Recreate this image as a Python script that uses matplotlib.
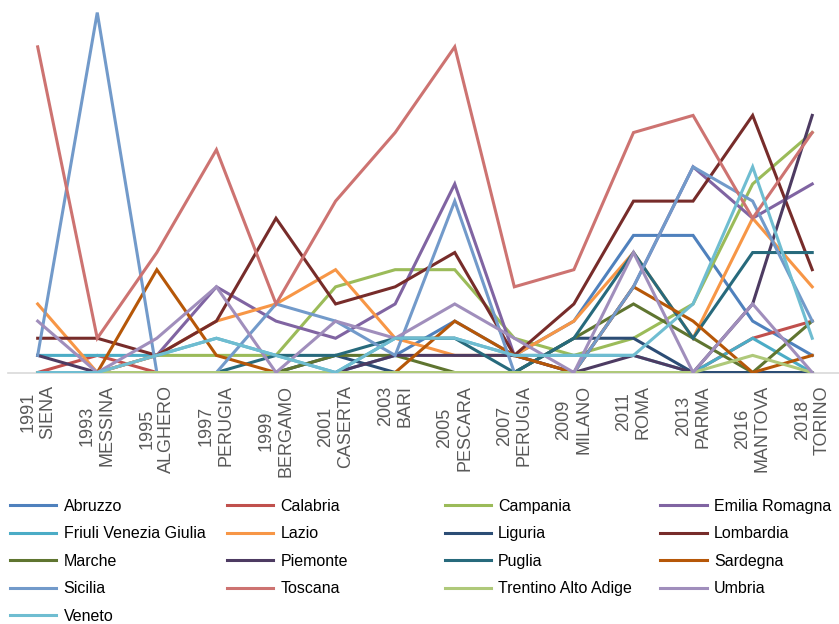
import matplotlib
matplotlib.use('Agg')
import matplotlib.pyplot as plt
import numpy as np

edizioni = ['1991\nSIENA', '1993\nMESSINA', '1995\nALGHERO', '1997\nPERUGIA',
            '1999\nBERGAMO', '2001\nCASERTA', '2003\nBARI', '2005\nPESCARA',
            '2007\nPERUGIA', '2009\nMILANO', '2011\nROMA', '2013\nPARMA',
            '2016\nMANTOVA', '2018\nTORINO']

abruzzo   = [0, 0, 0, 0, 0, 0, 1, 3, 1, 3, 8, 8, 3, 1]
calabria  = [0, 1, 0, 0, 0, 0, 0, 0, 0, 0, 0, 0, 2, 3]
campania  = [0, 0, 1, 1, 1, 5, 6, 6, 2, 1, 2, 4, 11, 14]
emilia    = [0, 0, 1, 5, 3, 2, 4, 11, 1, 0, 5, 12, 9, 11]
friuli    = [1, 1, 1, 2, 1, 0, 2, 2, 1, 1, 1, 0, 2, 0]
lazio     = [4, 0, 1, 3, 4, 6, 2, 1, 1, 3, 7, 2, 9, 5]
liguria   = [0, 0, 0, 0, 0, 1, 0, 0, 0, 2, 2, 0, 0, 0]
lombardia = [2, 2, 1, 3, 9, 4, 5, 7, 1, 4, 10, 10, 15, 6]
marche    = [0, 0, 0, 0, 0, 1, 1, 0, 0, 2, 4, 2, 0, 3]
piemonte  = [1, 0, 0, 0, 0, 0, 1, 1, 1, 0, 1, 0, 4, 15]
puglia    = [0, 0, 0, 0, 1, 1, 2, 2, 0, 2, 7, 2, 7, 7]
sardegna  = [0, 0, 6, 1, 0, 0, 0, 3, 1, 0, 5, 3, 0, 1]
sicilia   = [1, 21, 0, 0, 4, 3, 1, 10, 0, 0, 5, 12, 10, 3]
toscana   = [19, 2, 7, 13, 4, 10, 14, 19, 5, 6, 14, 15, 9, 14]
trentino  = [0, 0, 0, 0, 0, 0, 0, 0, 0, 0, 0, 0, 1, 0]
umbria    = [3, 0, 2, 5, 0, 3, 2, 4, 2, 0, 7, 0, 4, 0]
veneto    = [0, 0, 1, 2, 1, 0, 2, 2, 1, 1, 1, 4, 12, 2]

regioni = ['Abruzzo', 'Calabria', 'Campania', 'Emilia Romagna',
           'Friuli Venezia Giulia', 'Lazio', 'Liguria', 'Lombardia',
           'Marche', 'Piemonte', 'Puglia', 'Sardegna',
           'Sicilia', 'Toscana', 'Trentino Alto Adige', 'Umbria', 'Veneto']
serie = [abruzzo, calabria, campania, emilia, friuli, lazio, liguria, lombardia,
         marche, piemonte, puglia, sardegna, sicilia, toscana, trentino, umbria, veneto]
colori = ['#4F81BD', '#C0504D', '#9BBB59', '#8064A2', '#4BACC6', '#F79646',
          '#2C4D75', '#772C2A', '#5F7530', '#4D3B62', '#276A7C', '#B65708',
          '#729ACA', '#CD7371', '#AFC97A', '#A08EBC', '#6FBDD1']

plt.rcParams['font.family'] = ['Liberation Sans', 'DejaVu Sans']

fig = plt.figure(figsize=(8.39, 6.24), dpi=100)
ax = fig.add_axes([0.0094, 0.403, 0.9942, 0.5906])

x = np.arange(len(edizioni))
linee = []
for nome, valori, col in zip(regioni, serie, colori):
    l, = ax.plot(x, valori, color=col, lw=2.2, label=nome, solid_joinstyle='miter')
    linee.append(l)

ax.set_xlim(-0.5, len(edizioni) - 0.5)
ax.set_ylim(0, 21.5)
ax.set_yticks([])
ax.set_xticks(x)
ax.set_xticklabels(edizioni, rotation=90, ha='center', va='top',
                   multialignment='center', fontsize=13, color='#595959',
                   linespacing=1.2)
ax.tick_params(axis='x', length=0, pad=9)
for s in ['top', 'right', 'left']:
    ax.spines[s].set_visible(False)
ax.spines['bottom'].set_color('#D9D9D9')
ax.spines['bottom'].set_linewidth(1.2)
ax.spines['bottom'].set_zorder(0)

# legenda a 4 colonne di larghezza uguale
col_x = [0.012, 0.2706, 0.530, 0.787]
for c in range(4):
    idx = list(range(c, len(regioni), 4))
    fig.legend([linee[i] for i in idx], [regioni[i] for i in idx],
               loc='upper left', bbox_to_anchor=(col_x[c], 0.2005),
               frameon=False, fontsize=11.5, handlelength=2.9,
               handletextpad=0.45, labelspacing=0.78, borderpad=0,
               borderaxespad=0)

fig.savefig('out.png', dpi=100)
